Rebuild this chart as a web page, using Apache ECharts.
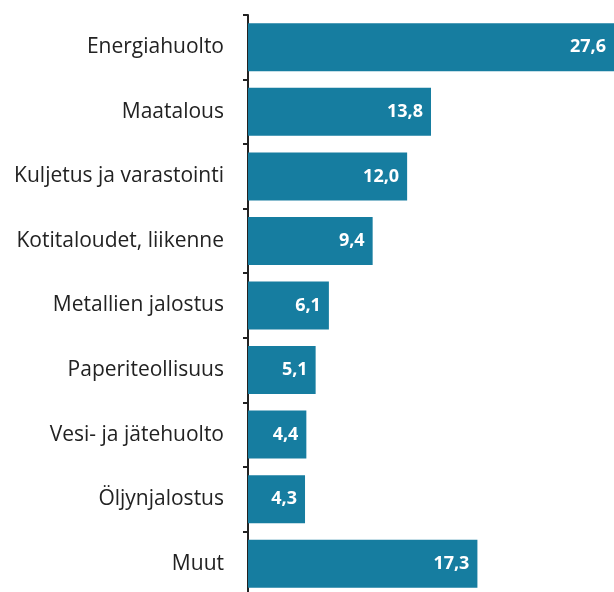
<!DOCTYPE html>
<html>
<head>
<meta charset="utf-8">
<script src="https://cdn.jsdelivr.net/npm/echarts@6/dist/echarts.min.js"></script>
<style>
  html, body { margin: 0; padding: 0; background: #fff; overflow: hidden; }
  #chart { width: 614px; height: 600px; }
</style>
</head>
<body>
<div id="chart"></div>
<script>
// toimialat ja niiden osuudet
const categories = [
  "Energiahuolto",
  "Maatalous",
  "Kuljetus ja varastointi",
  "Kotitaloudet, liikenne",
  "Metallien jalostus",
  "Paperiteollisuus",
  "Vesi- ja jätehuolto",
  "Öljynjalostus",
  "Muut"
];
const values = [27.6, 13.8, 12.0, 9.4, 6.1, 5.1, 4.4, 4.3, 17.3];

const chart = echarts.init(document.getElementById("chart"));

const option = {
  animation: false,
  grid: {
    left: 248,
    right: -1,
    top: 15,
    height: 581
  },
  xAxis: {
    type: "value",
    min: 0,
    max: 27.6,
    show: false
  },
  yAxis: {
    type: "category",
    data: categories,
    inverse: true,
    axisLine: { show: true, lineStyle: { color: "#222", width: 2 } },
    axisTick: { show: true, length: 5, lineStyle: { color: "#222", width: 2 } },
    axisLabel: {
      margin: 24,
      color: "#222",
      fontSize: 21,
      fontFamily: "Open Sans"
    }
  },
  series: [
    {
      type: "bar",
      data: values,
      barWidth: 48,
      itemStyle: { color: "#167da0" },
      label: {
        show: true,
        position: "insideRight",
        distance: 8,
        color: "#fff",
        fontWeight: "bold",
        fontSize: 18,
        fontFamily: "Open Sans",
        formatter: (p) => p.value.toFixed(1).replace(".", ",")
      }
    }
  ]
};

chart.setOption(option);
</script>
</body>
</html>
